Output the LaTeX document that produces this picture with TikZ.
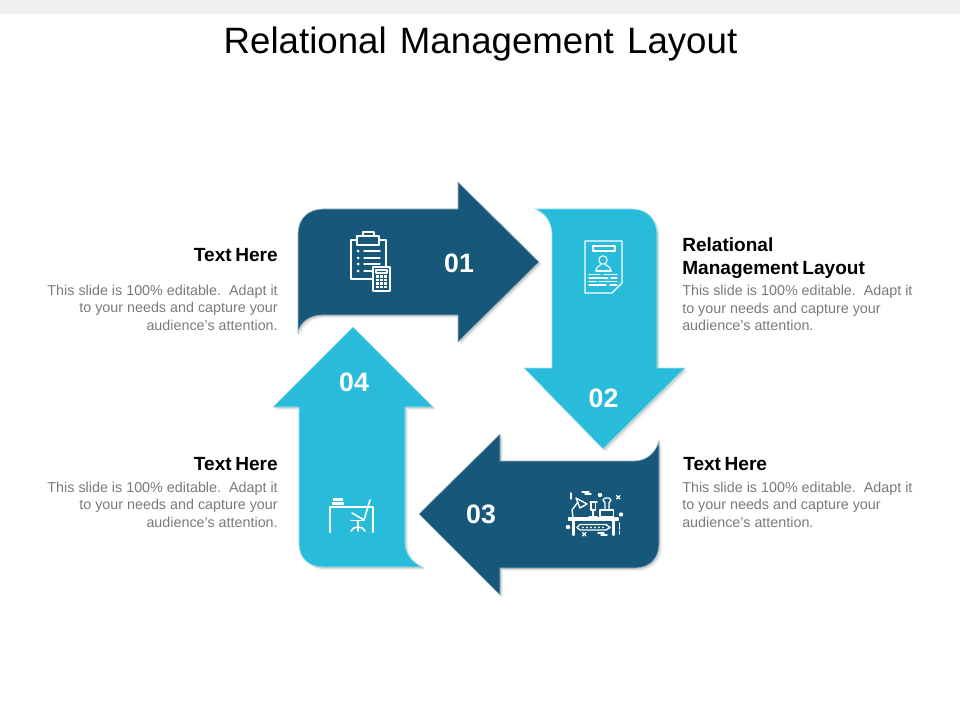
\documentclass[tikz,border=0pt]{standalone}
\usepackage{fontspec}
\setmainfont{Liberation Sans}
\definecolor{darkblue}{HTML}{17587A}
\definecolor{lightblue}{HTML}{29BBDA}
\definecolor{bodygray}{HTML}{7A7A7A}
\definecolor{topbar}{HTML}{F0F0F0}
\newcommand{\ShadedArrow}[2]{%
  \foreach \d/\o in {3.2/.03,2.4/.05,1.6/.07,0.8/.08}{\fill[black,opacity=\o,shift={(\d*0.75pt,-\d*0.75pt)}] #2;}
  \fill[#1] #2;
  \draw[#1!45!white,line width=.5pt] #2;}
\newcommand{\headfont}{\fontsize{14.3}{17.2}\selectfont\bfseries\spaceskip=.19em\relax}
\tikzset{
  num/.style={text=white,font=\fontsize{20}{22}\selectfont\bfseries,inner sep=0pt},
  head/.style={text=black,font=\headfont,inner sep=0pt},
  body/.style={text=bodygray,font=\fontsize{10.75}{13.1}\selectfont,inner sep=0pt},
  ico/.style={draw=white,line width=1pt,line cap=round,line join=round},
  icothin/.style={draw=white,line width=.8pt,line cap=round,line join=round},
  icodot/.style={fill=white,draw=none}
}
\begin{document}
\begin{tikzpicture}[x=0.75pt,y=-0.75pt]
\useasboundingbox (0,0) rectangle (960,720);
\fill[topbar] (0,0) rectangle (960,14);
\node[inner sep=0pt,font=\fontsize{27.5}{32}\selectfont] (title) at (480.5,44) {Relational\hspace{.36em}Management\hspace{.36em}Layout};

\ShadedArrow{darkblue}{(298,234) .. controls (298,219) and (308,209) .. (323,209) -- (458,209) -- (458,182) -- (539,262) -- (458,342) -- (458,315) -- (323,315) .. controls (309,315) and (299,323) .. (298,334) -- cycle}
\ShadedArrow{lightblue}{(535,209) .. controls (546,213) and (552,223) .. (552,235) -- (552,368) -- (524,368) -- (603,449) -- (685,368) -- (657,368) -- (657,235) .. controls (657,219) and (647,209) .. (632,209) -- cycle}
\ShadedArrow{darkblue}{(659,441) .. controls (656,452) and (647,461) .. (634,461) -- (500,461) -- (500,434) -- (419,514) -- (500,595) -- (500,568) -- (635,568) .. controls (650,568) and (659,558) .. (659,544) -- cycle}
\ShadedArrow{lightblue}{(423,567) .. controls (412,563) and (405,553) .. (405,542) -- (405,407) -- (433,407) -- (353,327) -- (273,407) -- (299,407) -- (299,544) .. controls (299,558) and (309,567) .. (323,567) -- cycle}

\node[num] (n1) at (459,263) {01};
\node[num] (n2) at (603.5,398) {02};
\node[num] (n3) at (481,514.5) {03};
\node[num] (n4) at (354,382) {04};

% clipboard icon
\draw[ico] (357,240) -- (351,240) -- (351,279) -- (373,279);
\draw[ico] (379,240) -- (386,240) -- (386,267);
\draw[ico] (357,245) rectangle (379,236);
\draw[ico] (363,236) -- (363,232) -- (374,232) -- (374,236);
\foreach \yy in {251,258,264,271}{\fill[white] (358,\yy) circle (1.5);}
\foreach \yy in {251,258}{\draw[icothin] (364,\yy) -- (380,\yy);}
\draw[icothin] (364,264) -- (380,264);
\draw[icothin] (364,271) -- (372,271);
\draw[ico,fill=darkblue] (373,267) rectangle (390,291);
\draw[icothin] (376,270) rectangle (387,273);
\foreach \xx in {377.5,381.5,385.5}{\foreach \yy in {276.5,280,283.5,287}{\fill[white] (\xx-1.2,\yy-1.1) rectangle (\xx+1.2,\yy+1.1);}}

% document icon
\draw[ico] (612,293) -- (585,293) -- (585,241) -- (622,241) -- (622,283) -- cycle;
\draw[icothin] (593,246) rectangle (615,251);
\draw[icothin] (603,260) circle (4.2);
\draw[icothin] (596,271) .. controls (596,267) and (599,266) .. (601,264.5);
\draw[icothin] (611,271) .. controls (611,267) and (607,266) .. (605,264.5);
\draw[icothin] (596,271) -- (611,271);
\draw[icothin] (589,274.5) -- (600,274.5) (604,274.5) -- (617,274.5);
\draw[icothin] (589,278) -- (608,278) (611,278) -- (617,278);
\draw[icothin] (589,281.5) -- (596,281.5) (599,281.5) -- (617,281.5);
\draw[icothin] (589,285) -- (606,285) (610,285) -- (617,285);

% workshop desk icon
\draw[ico,fill=white] (568.5,518) rectangle (618,520.5);
\draw[ico,line width=1.6pt] (573.5,521) -- (573.5,535) (613.5,521) -- (613.5,535);
\draw[ico] (580,524.5) -- (606,524.5) -- (610,527.5) -- (606,530) -- (580,530) -- (577,527.5) -- cycle;
\foreach \xx in {583,587,591,595,599,603}{\fill[white] (\xx,527.3) circle (1);}
\draw[ico] (573,517) -- (572,510) -- (578,502);
\draw[ico] (576,498) -- (587,504) -- (580,508) -- cycle;
\draw[ico] (570,517.5) -- (580,517.5);
\draw[ico] (589,517) -- (597,517) (593,517) -- (593,510);
\draw[ico] (590,502) -- (597,502) (591,502) -- (591,510) -- (595.5,510) -- (595.5,502);
\draw[ico] (600,517) rectangle (613.5,510);
\draw[ico] (605,510) -- (605,503) -- (603,500) -- (605,498) -- (609,498) -- (611,500) -- (609,503) -- (609,510);
\draw[ico] (571,493) -- (571,499);
\draw[ico] (582,492) -- (589,492) (585,494) -- (591,494);
\fill[white] (600,495) circle (2.2);
\fill[white] (621,514.5) circle (2.2);
\fill[white] (568,527) circle (2.2);
\draw[ico] (616.5,495.5) -- (620,499) (620,495.5) -- (616.5,499);
\draw[ico] (582.5,532.5) -- (586,536) (586,532.5) -- (582.5,536);
\draw[ico] (598,533) -- (604,533) (601,535) -- (607,535);
\draw[ico] (619.5,523) -- (619.5,529) (619.5,531) -- (619.5,534);

% office desk icon
\fill[white] (333,498) rectangle (343,500.5);
\fill[white] (332,502) rectangle (344,505);
\draw[ico,line width=1.6pt] (330,532) -- (330,507) -- (373,507) -- (373,532);
\draw[ico,line width=1.2pt] (370,500) -- (364,520) -- (352,513);
\draw[ico,line width=1.2pt] (351,520.5) -- (364,520.5);
\draw[ico,line width=1.2pt] (358,521) -- (358,528);
\draw[ico,line width=1.2pt] (351,531) .. controls (352,528) and (355,527) .. (358,527) .. controls (361,527) and (364,528) .. (365,531);
\draw[ico,line width=1.2pt] (358,527) -- (358,531);

% texts
\node[head,anchor=east] (h1) at (278,255.5) {Text Here};
\node[body,anchor=north east,align=right] (b1) at (278,284.5) {This slide is 100\% editable.\ \ Adapt it\\to your needs and capture your\\audience's attention.};
\node[head,anchor=east] (h4) at (278,464.5) {Text Here};
\node[body,anchor=north east,align=right] (b4) at (278,481.5) {This slide is 100\% editable.\ \ Adapt it\\to your needs and capture your\\audience's attention.};
\node[head,anchor=north west,align=left] (h2) at (682,237) {Relational\\Management Layout};
\node[body,anchor=north west,align=left] (b2) at (682,285) {This slide is 100\% editable.\ \ Adapt it\\to your needs and capture your\\audience's attention.};
\node[head,anchor=west] (h3) at (683,464.5) {Text Here};
\node[body,anchor=north west,align=left] (b3) at (682,481.5) {This slide is 100\% editable.\ \ Adapt it\\to your needs and capture your\\audience's attention.};
\end{tikzpicture}
\end{document}
